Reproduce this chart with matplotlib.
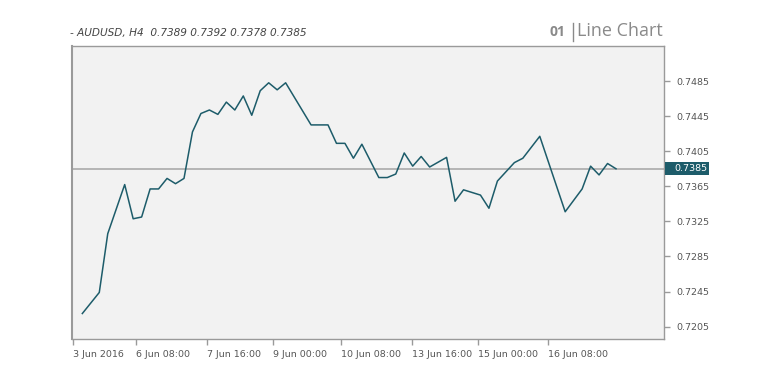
import matplotlib
matplotlib.use("Agg")
import matplotlib.pyplot as plt
from matplotlib.patches import Rectangle
from matplotlib.lines import Line2D
from matplotlib.transforms import blended_transform_factory

# bar index (H4 bars, weekends removed) and close values
bars = [0, 2, 3, 5, 6, 7, 8, 9, 10, 11, 12, 13, 14, 15, 16, 17, 18, 19, 20, 21,
        22, 23, 24, 27, 29, 30, 31, 32, 33, 35, 36, 37, 38, 39, 40, 41, 43, 44,
        45, 46, 47, 48, 49, 51, 52, 54, 57, 59, 60, 61, 62, 63]
closes = [0.7220, 0.7244, 0.7311, 0.7367, 0.7328, 0.7330, 0.7362, 0.7362,
          0.7374, 0.7368, 0.7374, 0.7427, 0.7448, 0.7452, 0.7447, 0.7461,
          0.7452, 0.7468, 0.7446, 0.7474, 0.7483, 0.7475, 0.7483, 0.7435,
          0.7435, 0.7414, 0.7414, 0.7397, 0.7413, 0.7375, 0.7375, 0.7379,
          0.7403, 0.7388, 0.7399, 0.7387, 0.7398, 0.7348, 0.7361, 0.7358,
          0.7355, 0.7340, 0.7371, 0.7392, 0.7397, 0.7422, 0.7336, 0.7362,
          0.7388, 0.7378, 0.7391, 0.7385]

tick_pos = [-1.1, 6.3, 14.7, 22.55, 30.5, 38.9, 46.75, 54.95]
tick_labels = ["3 Jun 2016", "6 Jun 08:00", "7 Jun 16:00", "9 Jun 00:00",
               "10 Jun 08:00", "13 Jun 16:00", "15 Jun 00:00", "16 Jun 08:00"]
y_ticks = [0.7205, 0.7245, 0.7285, 0.7325, 0.7365, 0.7405, 0.7445, 0.7485]

title = "- AUDUSD, H4  0.7389 0.7392 0.7378 0.7385"
last = closes[-1]

line_color = "#1d5c6a"
grey = "#9a9a9a"

plt.rcParams["font.family"] = ["DejaVu Sans"]

fig = plt.figure(figsize=(7.66, 3.83), dpi=100)
ax = fig.add_axes([0.094, 0.115, 0.773, 0.765])
ax.set_facecolor("#f2f2f2")

ax.plot(bars, closes, color=line_color, linewidth=1.1)
ax.axhline(last, color="#aaaaaa", linewidth=1.2, zorder=1)

ax.set_xlim(-1.22, 68.68)
ax.set_ylim(0.7191, 0.7525)

ax.set_xticks(tick_pos)
ax.set_xticklabels(tick_labels, ha="left")
ax.yaxis.tick_right()
ax.set_yticks(y_ticks)
ax.set_yticklabels(["%.4f" % v for v in y_ticks])
ax.tick_params(axis="both", colors=grey, labelcolor="#555555", labelsize=6.8,
               length=4, width=1)
ax.tick_params(axis="x", pad=4)
ax.tick_params(axis="y", pad=5)

for s in ax.spines.values():
    s.set_color(grey)
    s.set_linewidth(1.0)
ax.spines["left"].set_linewidth(1.5)

# current price label
trans = blended_transform_factory(ax.transAxes, ax.transData)
ax.add_patch(Rectangle((1.0015, last - 0.00074), 0.074, 0.00148,
                       transform=trans, facecolor=line_color,
                       edgecolor="none", clip_on=False, zorder=3))
ax.text(1.0165, last, "%.4f" % last, transform=trans, ha="left", va="center",
        fontsize=6.8, color="white", zorder=4)

fig.text(0.091, 0.905, title, fontsize=7.6, style="italic", color="#444444",
         ha="left", va="baseline")
fig.text(0.738, 0.905, "01", fontsize=10, fontweight="bold", color="#8a8a8a",
         ha="right", va="baseline", family="Open Sans")
fig.add_artist(Line2D([0.748, 0.748], [0.893, 0.94], transform=fig.transFigure,
                      color="#8a8a8a", linewidth=1.0))
fig.text(0.753, 0.905, "Line Chart", fontsize=13, color="#8a8a8a", ha="left",
         va="baseline", family="Open Sans")

fig.savefig("out.png", dpi=100)
